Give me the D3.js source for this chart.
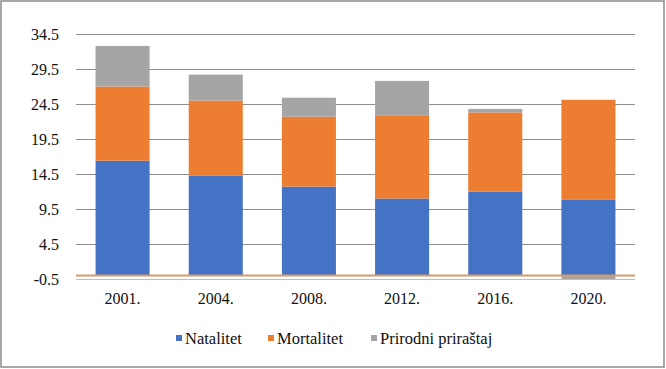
<!DOCTYPE html>
<html>
<head>
<meta charset="utf-8">
<script src="https://cdn.jsdelivr.net/npm/d3@7"></script>
<style>
  html, body { margin: 0; padding: 0; background: #fff; }
  svg { display: block; }
</style>
</head>
<body>
<svg id="chart" width="666" height="369"></svg>
<script>
const years = ['2001.', '2004.', '2008.', '2012.', '2016.', '2020.'];
const natalitet = [16.4, 14.3, 12.7, 11.0, 12.0, 10.8];
const mortalitet = [10.6, 10.7, 10.0, 11.8, 11.3, 14.3];
const prirodni = [5.8, 3.7, 2.7, 5.0, 0.5, -3.5];
const yTicks = [-0.5, 4.5, 9.5, 14.5, 19.5, 24.5, 29.5, 34.5];

const seriesNames = ['Natalitet', 'Mortalitet', 'Prirodni priraštaj'];
const colors = ['#4472C4', '#ED7D31', '#A5A5A5'];

const width = 666, height = 369;
const margin = { top: 34, right: 31, bottom: 90, left: 76 };
const plotW = width - margin.left - margin.right;
const plotH = height - margin.top - margin.bottom;
const serif = '"Liberation Serif", "Times New Roman", serif';

const svg = d3.select('#chart');

// outer border
svg.append('rect')
  .attr('x', 1).attr('y', 1)
  .attr('width', width - 3).attr('height', height - 3)
  .attr('fill', 'none').attr('stroke', '#8c8c8c').attr('stroke-width', 1.5);

const x = d3.scaleBand().domain(years).range([0, plotW]).paddingInner(0.42).paddingOuter(0.21);
const y = d3.scaleLinear().domain([-0.5, 34.5]).range([plotH, 0]);

const g = svg.append('g').attr('transform', `translate(${margin.left},${margin.top})`);

g.append('clipPath').attr('id', 'plotclip')
  .append('rect').attr('x', 0).attr('y', 0).attr('width', plotW).attr('height', plotH);

// gridlines
g.append('g')
  .selectAll('line')
  .data(yTicks.slice(1))
  .join('line')
  .attr('x1', 0).attr('x2', plotW)
  .attr('y1', d => Math.round(y(d)) + 0.5).attr('y2', d => Math.round(y(d)) + 0.5)
  .attr('stroke', '#8f8f8f').attr('stroke-width', 1);

// y labels
g.append('g')
  .selectAll('text')
  .data(yTicks)
  .join('text')
  .attr('x', -17)
  .attr('y', d => y(d))
  .attr('dy', '0.35em')
  .attr('text-anchor', 'end')
  .attr('font-family', serif)
  .attr('font-size', 16)
  .attr('fill', '#111')
  .text(d => d.toFixed(1));

// stacked bars (negative values stack below zero)
const rows = years.map((yr, i) => ({ yr, vals: [natalitet[i], mortalitet[i], prirodni[i]] }));
const bars = g.append('g').attr('clip-path', 'url(#plotclip)');
rows.forEach(r => {
  let pos = 0, neg = 0;
  r.vals.forEach((v, s) => {
    let y0, y1;
    if (v >= 0) { y0 = pos; y1 = pos + v; pos = y1; }
    else { y0 = neg + v; y1 = neg; neg = y0; }
    bars.append('rect')
      .attr('x', x(r.yr))
      .attr('width', x.bandwidth())
      .attr('y', y(y1))
      .attr('height', y(y0) - y(y1))
      .attr('fill', colors[s]);
  });
});

// bottom axis line at -0.5
g.append('line')
  .attr('x1', 0).attr('x2', plotW)
  .attr('y1', plotH + 0.5).attr('y2', plotH + 0.5)
  .attr('stroke', '#bdbdbd').attr('stroke-width', 1);

// zero line
g.append('line')
  .attr('x1', 0).attr('x2', plotW)
  .attr('y1', y(0)).attr('y2', y(0))
  .attr('stroke', '#D99A68').attr('stroke-width', 2);

// x labels
g.append('g')
  .selectAll('text')
  .data(years)
  .join('text')
  .attr('x', d => x(d) + x.bandwidth() / 2)
  .attr('y', plotH + 25)
  .attr('text-anchor', 'middle')
  .attr('font-family', serif)
  .attr('font-size', 16)
  .attr('fill', '#111')
  .text(d => d);

// legend
const legendX = [176, 268, 371];
const legend = svg.append('g').attr('transform', 'translate(0,338)');
seriesNames.forEach((name, i) => {
  legend.append('rect')
    .attr('x', legendX[i]).attr('y', -3)
    .attr('width', 6).attr('height', 6)
    .attr('fill', colors[i]);
  legend.append('text')
    .attr('x', legendX[i] + 9).attr('y', 0)
    .attr('dy', '0.35em')
    .attr('font-family', serif)
    .attr('font-size', 16.5)
    .attr('fill', '#111')
    .text(name);
});
</script>
</body>
</html>
